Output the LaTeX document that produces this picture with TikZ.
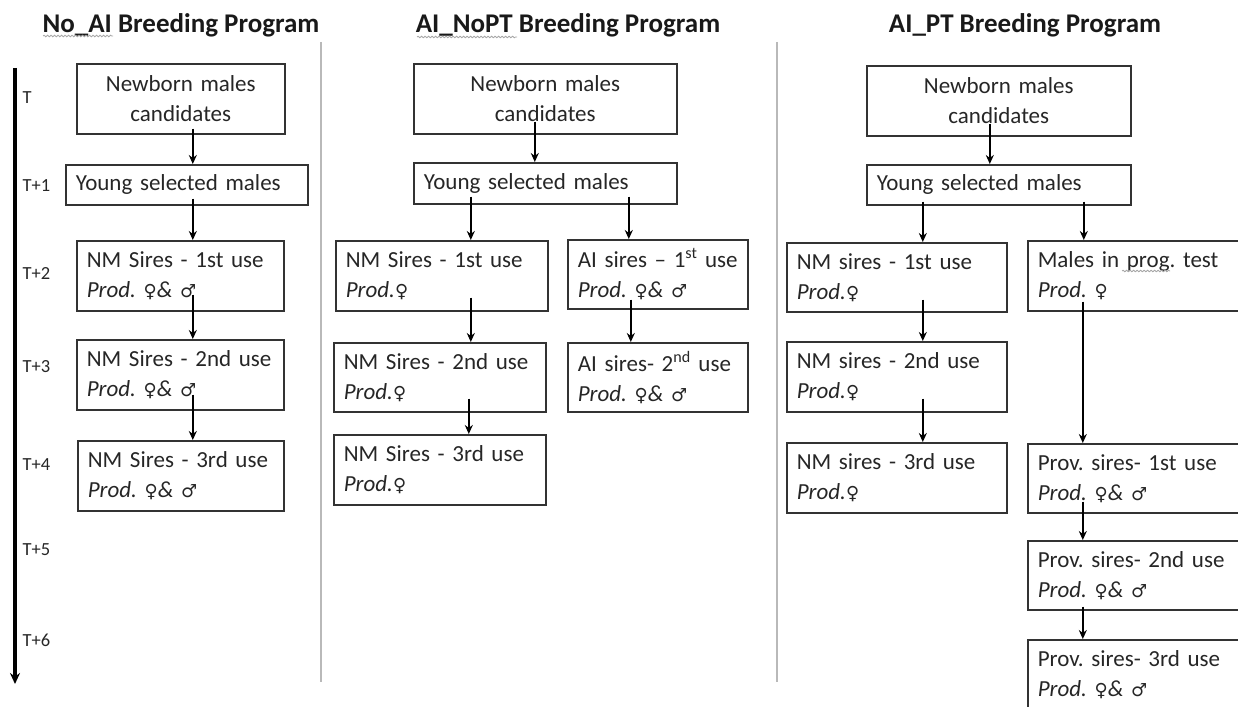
\documentclass[tikz,border=0pt]{standalone}
\usepackage{fontspec}
\setmainfont{Carlito}
\newfontfamily\genderfont{DejaVu Sans}
\usetikzlibrary{arrows.meta,positioning,decorations.pathmorphing}
\frenchspacing

\newcommand{\femsym}{{\genderfont\itshape\fontsize{18}{18}\selectfont ♀}}
\newcommand{\malsym}{{\genderfont\itshape\fontsize{18}{18}\selectfont ♂}}

\tikzset{
  stage/.style={draw=black!80, line width=1.6pt, anchor=north west, inner xsep=10pt, inner ysep=2pt,
    minimum height=70pt, align=left, font=\fontsize{23}{30}\selectfont, text=black!85},
  flow/.style={-{Stealth[length=9pt,width=8pt]}, line width=1.4pt},
  title/.style={font=\bfseries\fontsize{27}{32}\selectfont, text=black!90},
  tick/.style={anchor=west, font=\fontsize{18.5}{18.5}\selectfont, text=black!85},
  squiggle/.style={decorate, decoration={snake, amplitude=0.8pt, segment length=3.5pt}, gray!70, line width=0.8pt},
  divider/.style={gray!55, line width=1.5pt}
}

\begin{document}
\begin{tikzpicture}[x=1pt,y=-1pt]
    \useasboundingbox (0,0) rectangle (1238,706);
    \clip (0,0) rectangle (1238,706);

    % Titles
    \node[title] (ttl1) at (181,25) {No\_AI Breeding Program};
    \node[title] (ttl2) at (568,25) {AI\_NoPT Breeding Program};
    \node[title] (ttl3) at (1025,25) {AI\_PT Breeding Program};
    \draw[squiggle] (43,36) -- (113,36);
    \draw[squiggle] (417,37) -- (517,37);

    % Time axis
    \coordinate (tl-top) at (15,68);
    \coordinate (tl-end) at (15,684);
    \draw[line width=3.2pt, -{Stealth[length=11pt,width=10pt]}] (tl-top) -- (tl-end);
    \foreach \lab/\y [count=\i] in {T/98, T+1/186, T+2/273, T+3/367, T+4/465, T+5/550, T+6/640} {
        \node[tick] (tk\i) at (19,\y) {\lab};
    }

    % Dividers
    \coordinate (div1a) at (321,42);
    \coordinate (div1b) at (321,682);
    \coordinate (div2a) at (777,42);
    \coordinate (div2b) at (777,682);
    \draw[divider] (div1a) -- (div1b);
    \draw[divider] (div2a) -- (div2b);

    % No_AI program
    \node[stage, text width=188pt, align=center] (nb1) at (76,63) {Newborn males\\candidates};
    \node[stage, text width=222pt, minimum height=40pt] (ysm1) at (65,164) {Young selected males};
    \node[stage, text width=187pt] (nm1a) at (76,240) {\mbox{NM Sires - 1st use}\\\textit{Prod. \femsym\& \malsym}};
    \node[stage, text width=187pt] (nm1b) at (76,339) {\mbox{NM Sires - 2nd use}\\\textit{Prod. \femsym\& \malsym}};
    \node[stage, text width=186pt] (nm1c) at (77,440) {\mbox{NM Sires - 3rd use}\\\textit{Prod. \femsym\& \malsym}};

    \draw[flow] ([xshift=12pt,yshift=6pt]nb1.south) -- ([xshift=6pt]ysm1.north);
    \draw[flow] ([xshift=6pt,yshift=7pt]ysm1.south) -- ([xshift=12.5pt]nm1a.north);
    \draw[flow] ([xshift=12.5pt,yshift=17pt]nm1a.south) -- ([xshift=12.5pt]nm1b.north);
    \draw[flow] ([xshift=12.5pt,yshift=16pt]nm1b.south) -- ([xshift=12pt]nm1c.north);

    % AI_NoPT program
    \node[stage, text width=243pt, align=center] (nb2) at (413,63) {Newborn males\\candidates};
    \node[stage, text width=243pt, minimum height=41pt] (ysm2) at (413,162) {Young selected males};
    \node[stage, text width=192pt] (nm2a) at (335,240) {\mbox{NM Sires - 1st use}\\\textit{Prod.\femsym}};
    \node[stage, text width=192pt, minimum height=69pt] (nm2b) at (333,342) {\mbox{NM Sires - 2nd use}\\\textit{Prod.\femsym}};
    \node[stage, text width=192pt] (nm2c) at (333,434) {\mbox{NM Sires - 3rd use}\\\textit{Prod.\femsym}};
    \node[stage, text width=160pt, minimum height=69pt] (ai2a) at (567,239) {\mbox{AI sires -- 1\textsuperscript{st} use}\\\textit{Prod. \femsym\& \malsym}};
    \node[stage, text width=160pt, minimum height=69pt] (ai2b) at (567,342) {\mbox{AI sires- 2\textsuperscript{nd} use}\\\textit{Prod. \femsym\& \malsym}};

    \draw[flow] ([xshift=-10.5pt,yshift=13pt]nb2.south) -- ([xshift=-10.5pt]ysm2.north);
    \draw[flow] ([xshift=-74.5pt,yshift=8pt]ysm2.south) -- ([xshift=29pt]nm2a.north);
    \draw[flow] ([xshift=83.5pt,yshift=8pt]ysm2.south) -- ([xshift=-29pt]ai2a.north);
    \draw[flow] ([xshift=29pt,yshift=14pt]nm2a.south) -- ([xshift=31pt]nm2b.north);
    \draw[flow] ([xshift=29pt,yshift=14pt]nm2b.south) -- ([xshift=29pt]nm2c.north);
    \draw[flow] ([xshift=-27pt,yshift=10pt]ai2a.south) -- ([xshift=-27pt]ai2b.north);

    % AI_PT program
    \node[stage, text width=244pt, align=center] (nb3) at (866,65) {Newborn males\\candidates};
    \node[stage, text width=244pt, minimum height=40pt] (ysm3) at (866,164) {Young selected males};
    \node[stage, text width=200pt, minimum height=69pt] (nm3a) at (786,242) {\mbox{NM sires - 1st use}\\\textit{Prod.\femsym}};
    \node[stage, text width=200pt] (nm3b) at (786,341) {\mbox{NM sires - 2nd use}\\\textit{Prod.\femsym}};
    \node[stage, text width=200pt] (nm3c) at (786,442) {\mbox{NM sires - 3rd use}\\\textit{Prod.\femsym}};
    \node[stage, text width=220pt] (mpt) at (1027,240) {\mbox{Males in prog. test}\\\textit{Prod. \femsym}};
    \node[stage, text width=220pt, minimum height=69pt] (pv1) at (1027,443) {\mbox{Prov. sires- 1st use}\\\textit{Prod. \femsym\& \malsym}};
    \node[stage, text width=220pt, minimum height=69pt] (pv2) at (1027,540) {\mbox{Prov. sires- 2nd use}\\\textit{Prod. \femsym\& \malsym}};
    \node[stage, text width=220pt] (pv3) at (1027,639) {\mbox{Prov. sires- 3rd use}\\\textit{Prod. \femsym\& \malsym}};
    \draw[squiggle] (1122,271) -- (1170,271);

    \draw[flow] ([xshift=-9pt,yshift=13pt]nb3.south) -- ([xshift=-9pt]ysm3.north);
    \draw[flow] ([xshift=-76pt,yshift=4pt]ysm3.south) -- ([xshift=26pt]nm3a.north);
    \draw[flow] ([xshift=85pt,yshift=4pt]ysm3.south) -- ([xshift=-64pt]mpt.north);
    \draw[flow] ([xshift=26pt,yshift=13pt]nm3a.south) -- ([xshift=26pt]nm3b.north);
    \draw[flow] ([xshift=26pt,yshift=14pt]nm3b.south) -- ([xshift=26pt]nm3c.north);
    \draw[flow] ([xshift=-65pt,yshift=10pt]mpt.south) -- ([xshift=-65pt]pv1.north);
    \draw[flow] ([xshift=-65pt,yshift=12pt]pv1.south) -- ([xshift=-65pt]pv2.north);
    \draw[flow] ([xshift=-65pt,yshift=4pt]pv2.south) -- ([xshift=-65pt]pv3.north);
\end{tikzpicture}
\end{document}
